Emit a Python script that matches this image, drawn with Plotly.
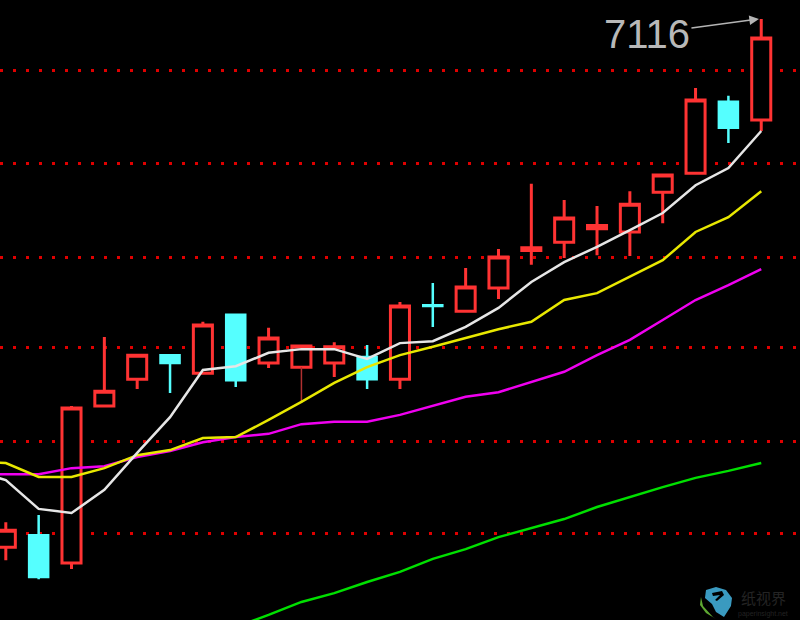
import plotly.graph_objects as go

idx = list(range(24))
opens = [5975,6001,5941,6280,6338,6390,6351,6477,6373,6364,6373,6386,6338,6498,6485,6535,6616,6634,6663,6656,6742,6783,6937,6898]
closes = [6012,5911,6276,6312,6390,6373,6455,6336,6427,6410,6408,6338,6496,6496,6537,6602,6622,6686,6670,6716,6779,6941,6881,7075]
highs = [6029,6045,6280,6429,6390,6390,6462,6477,6449,6410,6418,6412,6505,6546,6578,6619,6760,6725,6712,6744,6779,6967,6950,7116]
lows = [5947,5906,5928,6280,6317,6308,6351,6321,6362,6364,6343,6317,6317,6451,6485,6511,6585,6600,6606,6604,6675,6783,6848,6874]
thin_wick_x = [9, 9]
thin_wick_y = [6364, 6287]
ma_idx = list(range(-1, 24))
ma_white = [6142,6120,6058,6049,6099,6179,6256,6358,6366,6395,6403,6403,6382,6416,6420,6451,6492,6548,6591,6624,6660,6697,6757,6794,6874]
ma_yellow = [6160,6157,6127,6127,6146,6174,6185,6211,6213,6250,6289,6330,6364,6390,6408,6427,6446,6462,6509,6524,6559,6595,6656,6688,6744]
ma_magenta = [6133,6133,6133,6146,6150,6170,6183,6202,6213,6220,6241,6246,6246,6261,6280,6300,6310,6332,6354,6390,6423,6466,6509,6541,6576]
ma_green = [None]*8 + [5803,5829,5857,5876,5900,5922,5950,5971,5997,6017,6036,6062,6084,6105,6125,6140,6157]
grid_levels = [7005,6803,6600,6406,6203,6004]
peak_label = "7116"

RED = "#ff3333"
CYAN = "#55ffff"

fig = go.Figure()
fig.add_trace(go.Scatter(x=thin_wick_x, y=thin_wick_y, mode="lines",
                         line=dict(color="#b03030", width=1.5), showlegend=False))
fig.add_trace(go.Candlestick(
    x=idx, open=opens, high=highs, low=lows, close=closes,
    increasing=dict(line=dict(color=RED, width=3), fillcolor="#000000"),
    decreasing=dict(line=dict(color=CYAN, width=2.5), fillcolor=CYAN),
    whiskerwidth=0, showlegend=False))
for vals, color in [(ma_green, "#00e000"), (ma_magenta, "#f000f0"),
                    (ma_yellow, "#e8e800"), (ma_white, "#e6e6e6")]:
    fig.add_trace(go.Scatter(x=ma_idx, y=vals, mode="lines",
                             line=dict(color=color, width=2.5), showlegend=False))

fig.add_annotation(x=22.93, y=7116, xref="x", yref="y", text=peak_label,
                   ax=-112, ay=15, axref="pixel", ayref="pixel",
                   showarrow=True, arrowhead=2, arrowsize=1.2, arrowwidth=1.6,
                   arrowcolor="#b4b4b4",
                   font=dict(family="Liberation Sans", size=40, color="#b8b8b8"))
fig.add_annotation(xref="paper", yref="paper", x=763/800, y=1-597/620, text="纸视界",
                   xanchor="center", yanchor="middle", showarrow=False,
                   font=dict(family="Noto Sans CJK SC", size=15, color="#242424"))
fig.add_annotation(xref="paper", yref="paper", x=763/800, y=1-614/620, text="paperinsight.net",
                   xanchor="center", yanchor="middle", showarrow=False,
                   font=dict(family="Liberation Sans", size=7, color="#222222"))


def P(pts):
    return "M" + " L".join(f"{x/800:.4f},{1-y/620:.4f}" for x, y in pts) + " Z"


fig.update_layout(
    width=800, height=620,
    margin=dict(l=0, r=0, t=0, b=0),
    paper_bgcolor="#000000", plot_bgcolor="#000000",
    boxgap=0.42, boxgroupgap=0, showlegend=False,
    xaxis=dict(range=[-0.177, 24.18], visible=False, rangeslider=dict(visible=False)),
    yaxis=dict(range=[5818, 7157], tickvals=grid_levels, showticklabels=False, ticks="",
               showgrid=True, gridcolor="#e00000", gridwidth=2.5, griddash="2.5px,10.5px",
               zeroline=False, showline=False),
    shapes=[
        dict(type="path", xref="paper", yref="paper", line=dict(width=0), fillcolor="#3a9ac0",
             path=P([(706,590),(716,587),(726,590),(732,598),(731,606),(724,617),(716,612),(712,604),(705,598)])),
        dict(type="path", xref="paper", yref="paper", line=dict(width=0), fillcolor="#000000",
             path=P([(712,593),(722,591),(724,595),(717,601),(715,600),(720,595),(713,596)])),
        dict(type="path", xref="paper", yref="paper", line=dict(width=0), fillcolor="#5ea832",
             path=P([(701,597),(703,606),(713,617),(716,619),(706,613),(700,605)])),
    ],
)
fig.write_html("out.html", config=dict(displayModeBar=False),
               post_script="document.body.style.margin='0';document.body.style.overflow='hidden';")
